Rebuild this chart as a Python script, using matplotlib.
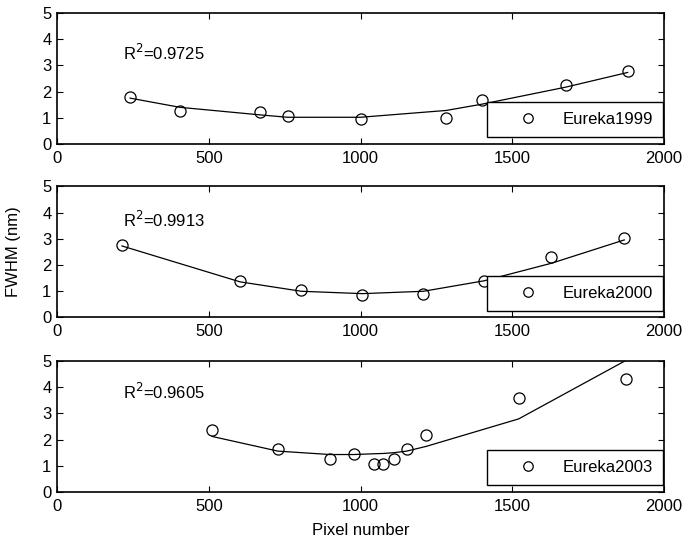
import numpy as np
import matplotlib.pyplot as plt

plt.rcParams['font.family'] = ['Liberation Sans', 'DejaVu Sans']
plt.rcParams['font.size'] = 12

# Eureka1999
x1 = [241, 405, 670, 760, 1000, 1282, 1400, 1676, 1880]
y1 = [1.79, 1.25, 1.21, 1.06, 0.97, 1.01, 1.67, 2.27, 2.77]
fit1 = [1.75, 1.40, 1.11, 1.02, 1.02, 1.28, 1.52, 2.17, 2.73]

# Eureka2000
x2 = [214, 603, 805, 1006, 1207, 1407, 1629, 1869]
y2 = [2.76, 1.39, 1.05, 0.84, 0.88, 1.39, 2.30, 3.02]
fit2 = [2.73, 1.36, 1.00, 0.91, 1.00, 1.40, 2.07, 2.96]

# Eureka2003
x3 = [511, 728, 899, 978, 1046, 1074, 1110, 1152, 1216, 1521, 1874]
y3 = [2.35, 1.63, 1.27, 1.45, 1.08, 1.08, 1.27, 1.63, 2.17, 3.60, 4.32]
fit3 = [2.12, 1.56, 1.43, 1.43, 1.46, 1.47, 1.50, 1.56, 1.74, 2.79, 5.02]

labels = ['Eureka1999', 'Eureka2000', 'Eureka2003']
r2 = ['0.9725', '0.9913', '0.9605']
r2_y = [3.47, 3.72, 3.82]

fig = plt.figure(figsize=(6.87, 5.44), dpi=100)
bottoms = [0.7353, 0.4164, 0.0956]
data = [(x1, y1, fit1), (x2, y2, fit2), (x3, y3, fit3)]

for i in range(3):
    ax = fig.add_axes([0.083, bottoms[i], 0.8836, 0.2408])
    xs, ys, fs = data[i]
    ax.plot(xs, fs, color='black', lw=0.9)
    ax.plot(xs, ys, 'o', mfc='none', mec='black', ms=8, mew=0.9, label=labels[i])
    ax.set_xlim(0, 2000)
    ax.set_ylim(0, 5)
    ax.set_xticks([0, 500, 1000, 1500, 2000])
    ax.set_yticks([0, 1, 2, 3, 4, 5])
    ax.tick_params(direction='in', top=True, right=True, length=4.5, width=0.8, pad=4)
    ax.tick_params(axis='x', pad=5)
    for s in ax.spines.values():
        s.set_linewidth(1.2)
    ax.text(218, r2_y[i], 'R$^2$=' + r2[i], va='center', ha='left')
    leg = ax.legend(loc='lower right', bbox_to_anchor=(0.998, 0.053),
                    borderaxespad=0, fancybox=False, edgecolor='black',
                    framealpha=1, handlelength=3.8, handletextpad=0.15,
                    borderpad=0.6, markerscale=0.85)
    leg.get_frame().set_linewidth(1.0)
    if i == 1:
        ax.set_ylabel('FWHM (nm)')
        ax.yaxis.set_label_coords(-0.059, 0.5)
    if i == 2:
        ax.set_xlabel('Pixel number')
        ax.xaxis.set_label_coords(0.5, -0.24)

plt.savefig('out.png', dpi=100)
